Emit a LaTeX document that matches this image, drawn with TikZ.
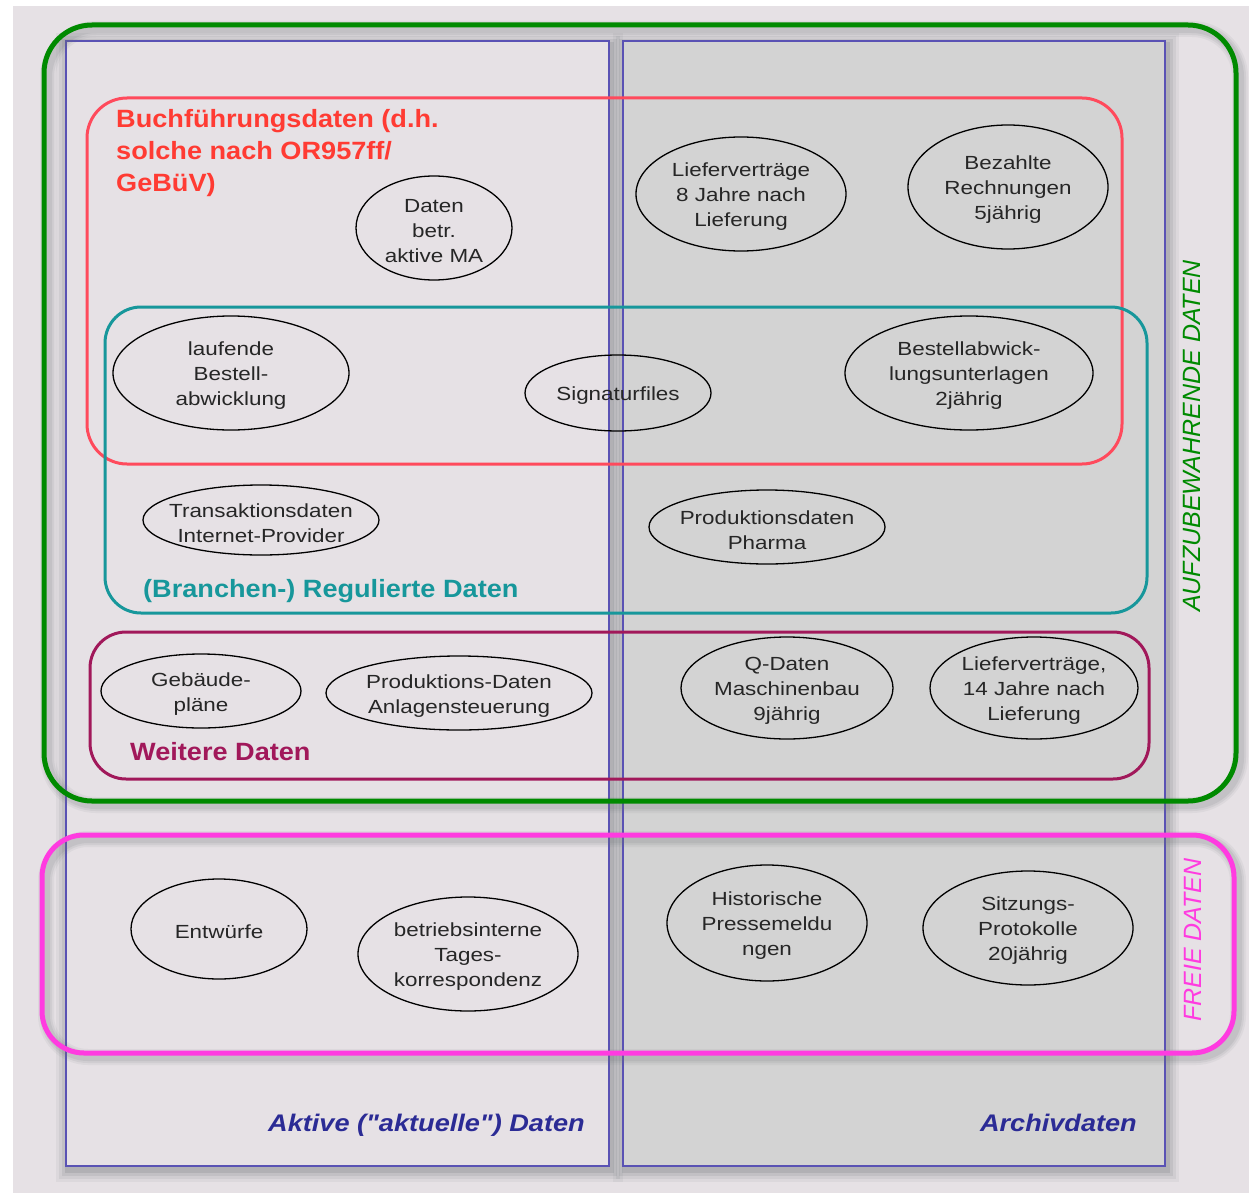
\documentclass[tikz,border=0pt]{standalone}
\usepackage{fontspec}
\setmainfont{Liberation Sans}
\newfontfamily\ellfont{Liberation Sans}[FakeStretch=1.18]
\newfontfamily\headfont{Liberation Sans}[FakeStretch=1.085]
\newfontfamily\panelfont{Liberation Sans}[FakeStretch=1.13]
\usetikzlibrary{shapes.geometric}

\definecolor{bgpink}{HTML}{E6E1E5}
\definecolor{archgrey}{HTML}{D3D3D3}
\definecolor{panelblue}{HTML}{5A52B4}
\definecolor{labelblue}{HTML}{2B2B95}
\definecolor{keepgreen}{HTML}{008A00}
\definecolor{bookred}{HTML}{FF4A5C}
\definecolor{booktitle}{HTML}{FF3B33}
\definecolor{regteal}{HTML}{17979B}
\definecolor{moremaroon}{HTML}{A1185A}
\definecolor{freemag}{HTML}{FF3BE0}
\definecolor{shadowtone}{HTML}{6E7478}
\definecolor{ink}{HTML}{262626}

\tikzset{
  panel/.style={draw=panelblue, line width=1.5},
  softshadow/.style={fill=shadowtone, opacity=#1},
  strokeshadow/.style={draw=shadowtone, rounded corners=48},
  group/.style={line width=3, rounded corners=40},
  biggroup/.style={line width=5, rounded corners=48},
  databubble/.style={ellipse, draw=black, line width=1.3, inner sep=0},
  bubbletext/.style={align=center, text=ink, inner sep=0, yshift=-3,
    font=\ellfont\fontsize{19}{25}\selectfont},
  grouptitle/.style={inner sep=0, font=\headfont\bfseries\fontsize{25}{32}\selectfont},
  paneltitle/.style={inner sep=0, text=labelblue,
    font=\panelfont\bfseries\itshape\fontsize{24}{30}\selectfont},
  sidetitle/.style={inner sep=0, rotate=90, font=\itshape\fontsize{25}{30}\selectfont}
}

\begin{document}
\begin{tikzpicture}[x=1pt, y=-1pt]
\useasboundingbox (0,0) rectangle (1249,1193);
% page background
\fill[white] (0,0) rectangle (1249,1193);
\fill[bgpink] (13,6) rectangle (1249,1193);

% soft shadows under the two panels
\foreach \d/\o in {12/0.08, 9/0.1, 6/0.14, 3/0.2} {
  \fill[softshadow=\o] (66-\d+2,41-\d+4) rectangle (609+\d+2,1166+\d+4);
  \fill[softshadow=\o] (623-\d+2,41-\d+4) rectangle (1165+\d+2,1166+\d+4);
}

% the two panels: active and archived data
\filldraw[panel, fill=bgpink] (66,41) rectangle (609,1166);
\filldraw[panel, fill=archgrey] (623,41) rectangle (1165,1166);

% soft shadow of the frame around the data to be retained
\foreach \w/\o in {16/0.08, 12/0.1, 8/0.13} {
  \draw[strokeshadow, line width=\w, opacity=\o] (48,29) rectangle (1240,805);
}
\draw[biggroup, keepgreen] (44,25) rectangle (1236,801);

% accounting, regulated and further data
\draw[group, bookred] (87,98) rectangle (1122,464);
\draw[group, regteal, rounded corners=36] (105,307) rectangle (1147,613);
\draw[group, moremaroon, rounded corners=36] (90,632) rectangle (1149,779);

% soft shadow of the frame around free data
\foreach \w/\o in {16/0.08, 12/0.1, 8/0.13} {
  \draw[strokeshadow, rounded corners=42, line width=\w, opacity=\o] (46,839) rectangle (1238,1057);
}
\draw[biggroup, freemag, rounded corners=42] (42,835) rectangle (1234,1053);

% group titles
\node[grouptitle, text=booktitle, anchor=base west] (bt1) at (116,128) {Buchführungsdaten (d.h.};
\node[grouptitle, text=booktitle, anchor=base west] (bt2) at (116,160) {solche nach OR957ff/};
\node[grouptitle, text=booktitle, anchor=base west] (bt3) at (116,192) {GeBüV)};
\node[grouptitle, text=regteal, anchor=base west] (rt) at (143,597) {(Branchen-) Regulierte Daten};
\node[grouptitle, text=moremaroon, anchor=base west] (wt) at (130,760) {Weitere Daten};

\node[paneltitle, anchor=base east] (at) at (585,1131) {Aktive ("aktuelle") Daten};
\node[paneltitle, anchor=base east] (art) at (1137,1131) {Archivdaten};

\node[sidetitle, text=keepgreen] (kt) at (1192,436) {AUFZUBEWAHRENDE DATEN};
\node[sidetitle, text=freemag] (ft) at (1193,940) {FREIE DATEN};

% data bubbles
\node[databubble, minimum width=156, minimum height=104] (e1) at (434,228) {};
\node[bubbletext] at (e1) {Daten\\betr.\\aktive MA};
\node[databubble, minimum width=210, minimum height=114] (e2) at (741,194) {};
\node[bubbletext] at (e2) {Lieferverträge\\8 Jahre nach\\Lieferung};
\node[databubble, minimum width=200, minimum height=124] (e3) at (1008,187) {};
\node[bubbletext] at (e3) {Bezahlte\\Rechnungen\\5jährig};
\node[databubble, minimum width=236, minimum height=114] (e4) at (231,373) {};
\node[bubbletext] at (e4) {laufende\\Bestell-\\abwicklung};
\node[databubble, minimum width=186, minimum height=76] (e5) at (618,393) {};
\node[bubbletext] at (e5) {Signaturfiles};
\node[databubble, minimum width=248, minimum height=114] (e6) at (969,373) {};
\node[bubbletext] at (e6) {Bestellabwick-\\lungsunterlagen\\2jährig};
\node[databubble, minimum width=236, minimum height=70] (e7) at (261,520) {};
\node[bubbletext] at (e7) {Transaktionsdaten\\Internet-Provider};
\node[databubble, minimum width=236, minimum height=74] (e8) at (767,527) {};
\node[bubbletext] at (e8) {Produktionsdaten\\Pharma};
\node[databubble, minimum width=200, minimum height=74] (e9) at (201,691) {};
\node[bubbletext] at (e9) {Gebäude-\\pläne};
\node[databubble, minimum width=266, minimum height=74] (e10) at (459,693) {};
\node[bubbletext] at (e10) {Produktions-Daten\\Anlagensteuerung};
\node[databubble, minimum width=212, minimum height=102] (e11) at (787,688) {};
\node[bubbletext] at (e11) {Q-Daten\\Maschinenbau\\9jährig};
\node[databubble, minimum width=208, minimum height=102] (e12) at (1034,688) {};
\node[bubbletext] at (e12) {Lieferverträge,\\14 Jahre nach\\Lieferung};
\node[databubble, minimum width=176, minimum height=100] (e13) at (219,929) {};
\node[bubbletext] at (e13) {Entwürfe};
\node[databubble, minimum width=220, minimum height=114] (e14) at (468,954) {};
\node[bubbletext] at (e14) {betriebsinterne\\Tages-\\korrespondenz};
\node[databubble, minimum width=200, minimum height=116] (e15) at (767,923) {};
\node[bubbletext] at (e15) {Historische\\Pressemeldu\\ngen};
\node[databubble, minimum width=210, minimum height=114] (e16) at (1028,928) {};
\node[bubbletext] at (e16) {Sitzungs-\\Protokolle\\20jährig};
\end{tikzpicture}
\end{document}
